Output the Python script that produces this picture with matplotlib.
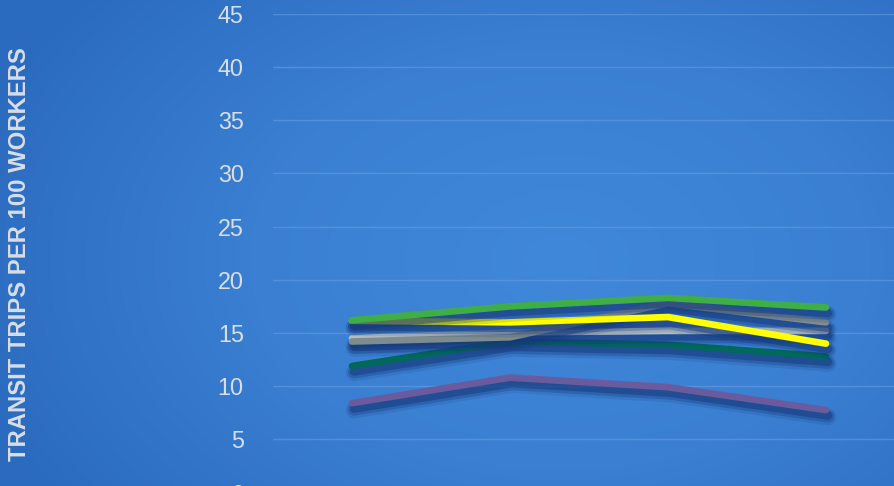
import numpy as np
import matplotlib
matplotlib.use("Agg")
import matplotlib.pyplot as plt
import matplotlib.patheffects as pe
from matplotlib.colors import LinearSegmentedColormap

# Transit trips per 100 workers, four periods, six series
periods = ["P1", "P2", "P3", "P4"]
green = [16.2, 17.5, 18.3, 17.4]
dark_gray = [14.2, 14.6, 17.8, 16.0]
yellow = [16.15, 16.0, 16.5, 14.0]
silver = [14.5, 15.05, 15.2, 15.2]
teal = [11.9, 14.2, 13.9, 12.8]
purple = [8.4, 10.8, 9.9, 7.75]

series = [
    (purple, "#6a5a9e"),
    (teal, "#00695c"),
    (silver, "#b3bec4"),
    (dark_gray, "#7f8c8d"),
    (yellow, "#ffff00"),
    (green, "#3fae46"),
]

W, H = 895, 486
fig = plt.figure(figsize=(W / 100, H / 100), dpi=100)

# radial blue background
bg = fig.add_axes([0, 0, 1, 1], zorder=-10)
yy, xx = np.mgrid[0:H, 0:W]
r = np.sqrt(((xx - 560) / 620) ** 2 + ((yy - 260) / 420) ** 2)
cmap = LinearSegmentedColormap.from_list("bg", ["#4088da", "#3a7fd2", "#2b6bbf"])
bg.imshow(np.clip(r, 0, 1), cmap=cmap, aspect="auto", extent=[0, 1, 0, 1])
bg.axis("off")

# axes: y=45 at 14px, y=0 at 492.5px from top; x categories spaced 158px
left = 273 / W
right = 905 / W
top = 1 - 14 / H
bottom = 1 - 492.5 / H
ax = fig.add_axes([left, bottom, right - left, top - bottom])
ax.patch.set_alpha(0)
ax.set_xlim(-0.5, 3.5)
ax.set_ylim(0, 45)
ax.set_yticks(range(0, 50, 5))
ax.set_xticks([])
for s in ax.spines.values():
    s.set_visible(False)
ax.grid(axis="y", color="#6a9de0", linewidth=1.0, alpha=0.6)
ax.tick_params(axis="y", length=0, pad=21, labelsize=16.8, labelcolor="#d8dee8")
for lab in ax.get_yticklabels():
    lab.set_fontfamily("Liberation Sans")
ax.set_axisbelow(True)

x = np.arange(len(periods))
# soft dark shadow below each line
shadow = [
    pe.SimpleLineShadow(offset=(1.5, -5), shadow_color="#16397a", alpha=0.15, linewidth=12),
    pe.SimpleLineShadow(offset=(1.5, -4.5), shadow_color="#16397a", alpha=0.3, linewidth=9),
    pe.SimpleLineShadow(offset=(1.5, -4), shadow_color="#16397a", alpha=0.5, linewidth=6),
    pe.Normal(),
]
for vals, col in series:
    ax.plot(x, vals, color=col, linewidth=4.8, solid_capstyle="round",
            solid_joinstyle="round", path_effects=shadow, clip_on=False)

fig.text(20 / W, 1 - 254 / H, "TRANSIT TRIPS PER 100 WORKERS", rotation=90,
         ha="center", va="center", fontsize=17.2, fontweight="bold",
         color="#d8dee8", fontfamily="Liberation Sans")

fig.savefig("out.png", dpi=100)
